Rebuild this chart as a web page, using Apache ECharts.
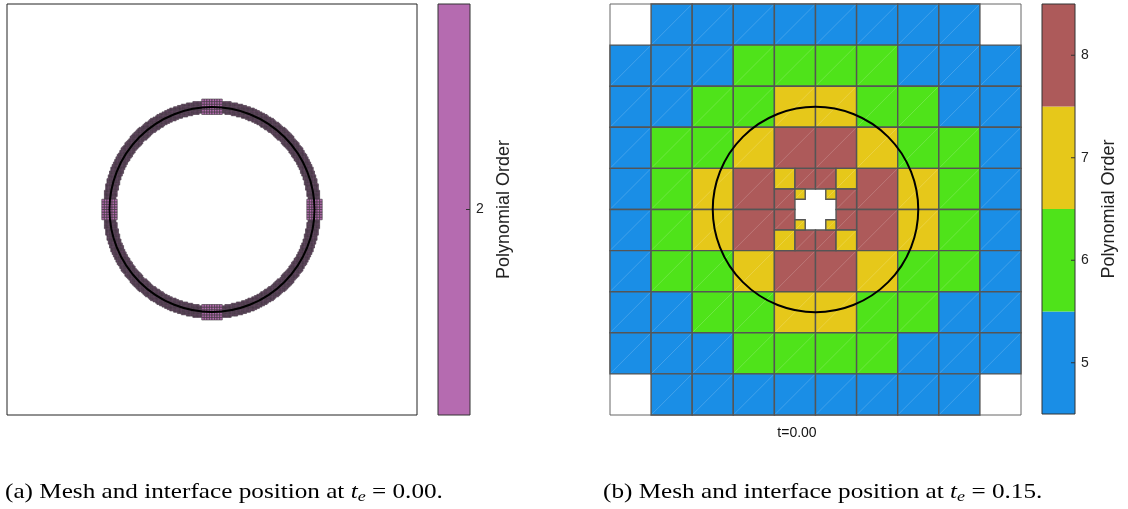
<!DOCTYPE html>
<html>
<head>
<meta charset="utf-8">
<script src="https://cdn.jsdelivr.net/npm/echarts@6/dist/echarts.min.js"></script>
<style>
  html, body { margin: 0; padding: 0; background: #fff; }
  #chart { width: 1128px; height: 509px; }
</style>
</head>
<body>
<div id="chart"></div>
<script>
// ---- Geometry: unit-square domain, circular interface ----
const interfaceCircle = [0.5, 0.5, 0.25];   // cx, cy, radius
const baseCells = 10;                        // base mesh is 10 x 10

// ---- Panel (a): order-2 mesh refined along the interface ----
const orderA = 2;
const fineLevelA = 5;          // refinement level inside the interface band
const coarseLevelA = 4;        // refinement level of the four axis-aligned patches
const bandHalfWidthA = 0.0135; // half width of the refined band around the interface
const patchesA = [             // [x0, y0, x1, y1]
  [0.475, 0.73125, 0.525, 0.76875],
  [0.475, 0.23125, 0.525, 0.26875],
  [0.23125, 0.475, 0.26875, 0.525],
  [0.73125, 0.475, 0.76875, 0.525]
];
const colorbarTicksA = [2];
const colorA = '#b56bb0';

// ---- Panel (b): polynomial order per element (rows listed top to bottom) ----
// 0 = no element, -1 = element split into the sub-cells below
const orderGridB = [
  [0, 5, 5, 5, 5, 5, 5, 5, 5, 0],
  [5, 5, 5, 6, 6, 6, 6, 5, 5, 5],
  [5, 5, 6, 6, 7, 7, 6, 6, 5, 5],
  [5, 6, 6, 7, 8, 8, 7, 6, 6, 5],
  [5, 6, 7, 8, -1, -1, 8, 7, 6, 5],
  [5, 6, 7, 8, -1, -1, 8, 7, 6, 5],
  [5, 6, 6, 7, 8, 8, 7, 6, 6, 5],
  [5, 5, 6, 6, 7, 7, 6, 6, 5, 5],
  [5, 5, 5, 6, 6, 6, 6, 5, 5, 5],
  [0, 5, 5, 5, 5, 5, 5, 5, 5, 0]
];
// central 2x2 block, split once (4 x 4 sub-cells, top to bottom)
const refinedBlockB = [
  [7, 8, 8, 7],
  [8, -1, -1, 8],
  [8, -1, -1, 8],
  [7, 8, 8, 7]
];
// the four innermost sub-cells, split again (2 x 2 each, top to bottom)
const innerCellsB = [
  { row: 1, col: 1, orders: [[7, 0], [0, 0]] },
  { row: 1, col: 2, orders: [[0, 7], [0, 0]] },
  { row: 2, col: 1, orders: [[0, 0], [7, 0]] },
  { row: 2, col: 2, orders: [[0, 0], [0, 7]] }
];
const orderLevelsB = [5, 6, 7, 8];
const orderColorsB = ['#1a8ee6', '#4fe31a', '#e6c81a', '#ad5a5a'];
const colorbarTicksB = [5, 6, 7, 8];
const timeLabel = 't=0.00';

// ---- Build element lists ----
function inAnyPatch(x, y) {
  return patchesA.some(p => x > p[0] && x < p[2] && y > p[1] && y < p[3]);
}
function touchesBand(x0, y0, x1, y1) {
  const [cx, cy, R] = interfaceCircle;
  const nx = Math.max(x0, Math.min(cx, x1)), ny = Math.max(y0, Math.min(cy, y1));
  const dMin = Math.hypot(nx - cx, ny - cy);
  const fx = Math.abs(x0 - cx) > Math.abs(x1 - cx) ? x0 : x1;
  const fy = Math.abs(y0 - cy) > Math.abs(y1 - cy) ? y0 : y1;
  const dMax = Math.hypot(fx - cx, fy - cy);
  return dMin <= R + bandHalfWidthA && dMax >= R - bandHalfWidthA;
}

const cellsA = [];
(function () {
  const n = baseCells * Math.pow(2, fineLevelA), h = 1 / n;
  for (let i = 0; i < n; i++) {
    for (let j = 0; j < n; j++) {
      const x0 = i * h, y0 = j * h, x1 = x0 + h, y1 = y0 + h;
      if (!touchesBand(x0, y0, x1, y1)) continue;
      if (inAnyPatch((x0 + x1) / 2, (y0 + y1) / 2)) continue;
      cellsA.push([x0, y0, x1, y1, orderA]);
    }
  }
  const hc = 1 / (baseCells * Math.pow(2, coarseLevelA));
  patchesA.forEach(p => {
    for (let x = p[0]; x < p[2] - 1e-9; x += hc) {
      for (let y = p[1]; y < p[3] - 1e-9; y += hc) {
        cellsA.push([x, y, x + hc, y + hc, orderA]);
      }
    }
  });
})();

const cellsB = [];
(function () {
  const h = 1 / baseCells;
  let blockX = null, blockTop = null;
  orderGridB.forEach((row, r) => row.forEach((v, c) => {
    const x0 = c * h, top = 1 - r * h;
    if (v > 0) cellsB.push([x0, top - h, x0 + h, top, v]);
    if (v === -1 && blockX === null) { blockX = x0; blockTop = top; }
  }));
  const hs = h / 2;
  refinedBlockB.forEach((row, r) => row.forEach((v, c) => {
    const x0 = blockX + c * hs, top = blockTop - r * hs;
    if (v > 0) cellsB.push([x0, top - hs, x0 + hs, top, v]);
  }));
  const hq = hs / 2;
  innerCellsB.forEach(cell => {
    const bx = blockX + cell.col * hs, bt = blockTop - cell.row * hs;
    cell.orders.forEach((row, r) => row.forEach((v, c) => {
      const x0 = bx + c * hq, top = bt - r * hq;
      if (v > 0) cellsB.push([x0, top - hq, x0 + hq, top, v]);
    }));
  });
})();

const colorOf = v => orderColorsB[orderLevelsB.indexOf(v)];
const bandsB = orderLevelsB.map(v => [0, v - 0.5, 1, v + 0.5, v]);

// ---- Render helpers ----
function rectOf(api) {
  const p0 = api.coord([api.value(0), api.value(3)]);
  const p1 = api.coord([api.value(2), api.value(1)]);
  return { x: p0[0], y: p0[1], width: p1[0] - p0[0], height: p1[1] - p0[1] };
}
function renderMeshA(params, api) {
  return { type: 'rect', shape: rectOf(api),
    style: { fill: colorA, stroke: '#353235', lineWidth: 0.6 } };
}
function renderMeshB(params, api) {
  const s = rectOf(api);
  return { type: 'group', children: [
    { type: 'rect', shape: s,
      style: { fill: colorOf(api.value(4)), stroke: '#555', lineWidth: 1.4 } },
    { type: 'line', shape: { x1: s.x + 1, y1: s.y + s.height - 1, x2: s.x + s.width - 1, y2: s.y + 1 },
      style: { stroke: 'rgba(255,255,255,0.25)', lineWidth: 0.7 } }
  ]};
}
function renderCircle(params, api) {
  const c = api.coord([api.value(0), api.value(1)]);
  const r = api.size([api.value(2), 0])[0];
  return { type: 'circle', shape: { cx: c[0], cy: c[1], r: r },
    style: { fill: 'none', stroke: '#000', lineWidth: 2 } };
}
function renderBand(fillFn) {
  return function (params, api) {
    return { type: 'rect', shape: rectOf(api), style: { fill: fillFn(api.value(4)) } };
  };
}
// colour-bar outline with short inward ticks on its right edge
function renderFrame(ticks) {
  return function (params, api) {
    const s = rectOf(api);
    const children = [{ type: 'rect', shape: s, style: { fill: 'none', stroke: '#333', lineWidth: 1 } }];
    ticks.forEach(t => {
      const p = api.coord([1, t]);
      children.push({ type: 'line', shape: { x1: p[0] - 4, y1: p[1], x2: p[0], y2: p[1] },
        style: { stroke: '#333', lineWidth: 1 } });
    });
    return { type: 'group', children: children };
  };
}

const unitAxis = gi => ({ gridIndex: gi, type: 'value', min: 0, max: 1, show: false });
const colorbarAxis = (gi, min, max, ticks) => ({
  gridIndex: gi, type: 'value', min: min, max: max, position: 'right',
  axisLine: { show: false }, splitLine: { show: false }, axisTick: { show: false },
  axisLabel: { customValues: ticks, fontSize: 14, color: '#222', margin: 6,
    fontFamily: 'Liberation Sans' },
  name: 'Polynomial Order', nameLocation: 'middle', nameRotate: 90, nameGap: 25,
  nameTextStyle: { fontSize: 18, color: '#222', fontFamily: 'Liberation Sans' }
});

const serif = 'Liberation Serif';
const captionRich = {
  n: { fontFamily: serif, fontSize: 21, color: '#111', lineHeight: 28, verticalAlign: 'middle' },
  i: { fontFamily: serif, fontSize: 21, fontStyle: 'italic', color: '#111', lineHeight: 28, verticalAlign: 'middle' },
  s: { fontFamily: serif, fontSize: 15, fontStyle: 'italic', color: '#111', lineHeight: 28,
       verticalAlign: 'middle', padding: [10, 0, 0, 0] }
};

const chart = echarts.init(document.getElementById('chart'), null, { renderer: 'canvas' });
chart.setOption({
  animation: false,
  backgroundColor: '#fff',
  grid: [
    { left: 7, top: 4, width: 410, height: 411, show: true, borderColor: '#222', borderWidth: 1, backgroundColor: '#fff' },
    { left: 438, top: 4, width: 32, height: 411 },
    { left: 610, top: 4, width: 411, height: 411, show: true, borderColor: '#666', borderWidth: 1, backgroundColor: '#fff' },
    { left: 1042, top: 4, width: 33, height: 410 }
  ],
  xAxis: [unitAxis(0), unitAxis(1), unitAxis(2), unitAxis(3)],
  yAxis: [
    unitAxis(0),
    colorbarAxis(1, colorbarTicksA[0] - 0.5, colorbarTicksA[0] + 0.5, colorbarTicksA),
    unitAxis(2),
    colorbarAxis(3, orderLevelsB[0] - 0.5, orderLevelsB[orderLevelsB.length - 1] + 0.5, colorbarTicksB)
  ],
  series: [
    { type: 'custom', xAxisIndex: 0, yAxisIndex: 0, data: cellsA, renderItem: renderMeshA,
      clip: false, progressive: 0, silent: true },
    { type: 'custom', xAxisIndex: 0, yAxisIndex: 0, data: [interfaceCircle], renderItem: renderCircle,
      clip: false, silent: true },
    { type: 'custom', xAxisIndex: 1, yAxisIndex: 1,
      data: [[0, colorbarTicksA[0] - 0.5, 1, colorbarTicksA[0] + 0.5, orderA]],
      renderItem: renderBand(() => colorA), silent: true },
    { type: 'custom', xAxisIndex: 1, yAxisIndex: 1,
      data: [[0, colorbarTicksA[0] - 0.5, 1, colorbarTicksA[0] + 0.5]],
      renderItem: renderFrame(colorbarTicksA), clip: false, silent: true },
    { type: 'custom', xAxisIndex: 2, yAxisIndex: 2, data: cellsB, renderItem: renderMeshB,
      clip: false, progressive: 0, silent: true },
    { type: 'custom', xAxisIndex: 2, yAxisIndex: 2, data: [interfaceCircle], renderItem: renderCircle,
      clip: false, silent: true },
    { type: 'custom', xAxisIndex: 3, yAxisIndex: 3, data: bandsB,
      renderItem: renderBand(colorOf), silent: true },
    { type: 'custom', xAxisIndex: 3, yAxisIndex: 3,
      data: [[0, orderLevelsB[0] - 0.5, 1, orderLevelsB[orderLevelsB.length - 1] + 0.5]],
      renderItem: renderFrame(colorbarTicksB), clip: false, silent: true }
  ],
  graphic: [
    { type: 'text', x: 797, y: 426, silent: true,
      style: { text: timeLabel, align: 'center', verticalAlign: 'top',
        font: '14px "Liberation Sans"', fill: '#111' } },
    { type: 'text', x: 5, y: 478, scaleX: 1.2, silent: true,
      style: { text: '{n|(a) Mesh and interface position at }{i|t}{s|e}{n| = 0.00.}',
        rich: captionRich, verticalAlign: 'top' } },
    { type: 'text', x: 603, y: 478, scaleX: 1.2, silent: true,
      style: { text: '{n|(b) Mesh and interface position at }{i|t}{s|e}{n| = 0.15.}',
        rich: captionRich, verticalAlign: 'top' } }
  ]
});
</script>
</body>
</html>
